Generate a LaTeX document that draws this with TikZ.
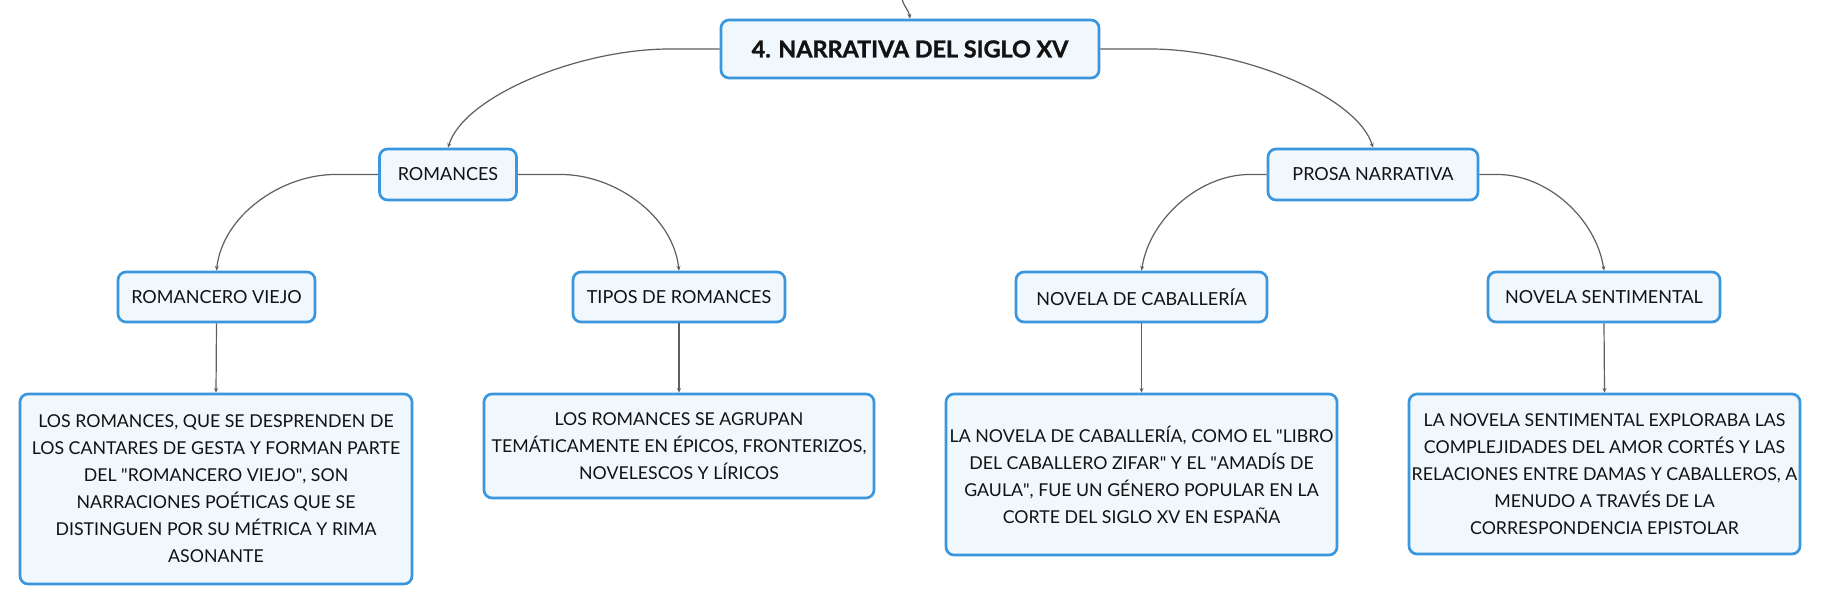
\documentclass[tikz,border=0pt]{standalone}
\usepackage{fontspec}
\setmainfont{Lato}
\newfontfamily\titlefont{Lato}[BoldFeatures={FakeBold=1.3}]
\usetikzlibrary{arrows.meta}
\definecolor{bxborder}{RGB}{58,150,221}
\definecolor{bxfill}{RGB}{240,247,253}
\definecolor{conncol}{RGB}{95,95,95}
\definecolor{txtcol}{RGB}{18,18,18}
\newcommand{\qd}{\textquotedbl}
\tikzset{
  box/.style 2 args={draw=bxborder, fill=bxfill, line width=2pt, rounded corners=6pt,
    minimum width=#1*0.75pt, minimum height=#2*0.75pt, inner sep=0pt, align=center,
    text=txtcol, font=\fontsize{13.5}{20.25}\selectfont},
  bodybox/.style 2 args={box={#1}{#2}, font=\fontsize{13.3}{20.25}\selectfont},
  titlebox/.style 2 args={box={#1}{#2}, font=\titlefont\bfseries\fontsize{17.5}{21}\selectfont},
  conn/.style={draw=conncol, line width=0.9pt, -{Stealth[length=3.5pt,width=3pt]}}
}
\begin{document}
\begin{tikzpicture}[x=0.75pt,y=-0.75pt]
\fill[white] (0,0) rectangle (1821,605);
\useasboundingbox (0,0) rectangle (1821,605);
% nodes
\node[titlebox={378}{58}] (title) at (910,49) {4. NARRATIVA DEL SIGLO XV};
\node[box={137}{51}] (rom) at (448,174.5) {ROMANCES};
\node[box={210}{51}] (prosa) at (1373,174.5) {PROSA NARRATIVA};
\node[box={197}{50}] (rv) at (216.5,297) {ROMANCERO VIEJO};
\node[box={212}{50}] (tipos) at (679,297) {TIPOS DE ROMANCES};
\node[box={251}{50}] (cab) at (1141.5,297) {NOVELA DE CABALLERÍA};
\node[box={232}{50}] (sent) at (1604,297) {NOVELA SENTIMENTAL};
\node[bodybox={392}{190}] (b1) at (216,489) {LOS ROMANCES, QUE SE DESPRENDEN DE\\LOS CANTARES DE GESTA Y FORMAN PARTE\\DEL \qd ROMANCERO VIEJO\qd, SON\\NARRACIONES POÉTICAS QUE SE\\DISTINGUEN POR SU MÉTRICA Y RIMA\\ASONANTE};
\node[bodybox={390}{104}] (b2) at (679,446) {LOS ROMANCES SE AGRUPAN\\TEMÁTICAMENTE EN ÉPICOS, FRONTERIZOS,\\NOVELESCOS Y LÍRICOS};
\node[bodybox={391}{161}] (b3) at (1141.5,474.5) {LA NOVELA DE CABALLERÍA, COMO EL \qd LIBRO\\DEL CABALLERO ZIFAR\qd{} Y EL \qd AMADÍS DE\\GAULA\qd, FUE UN GÉNERO POPULAR EN LA\\CORTE DEL SIGLO XV EN ESPAÑA};
\node[bodybox={391}{160}] (b4) at (1604.5,474) {LA NOVELA SENTIMENTAL EXPLORABA LAS\\COMPLEJIDADES DEL AMOR CORTÉS Y LAS\\RELACIONES ENTRE DAMAS Y CABALLEROS, A\\MENUDO A TRAVÉS DE LA\\CORRESPONDENCIA EPISTOLAR};
\coordinate (topin) at (902,-1);
% connectors
\draw[conn] (topin) .. controls +(2,8) and +(-1,-8) .. (title.north);
\draw[conn] (title.west) -- ++(-50,0) .. controls +(-90,0) and +(16,-52) .. (rom.north);
\draw[conn] (title.east) -- ++(50,0) .. controls +(90,0) and +(-16,-52) .. (prosa.north);
\draw[conn] (rom.west) -- ++(-43,0) .. controls +(-54,0) and +(6,-55) .. (rv.north);
\draw[conn] (rom.east) -- ++(43,0) .. controls +(54,0) and +(-6,-55) .. (tipos.north);
\draw[conn] (prosa.west) -- ++(-17,0) .. controls +(-50,0) and +(8,-52) .. (cab.north);
\draw[conn] (prosa.east) -- ++(18,0) .. controls +(50,0) and +(-8,-52) .. (sent.north);
\draw[conn] (rv.south) -- (b1.north);
\draw[conn] (tipos.south) -- (b2.north);
\draw[conn] (cab.south) -- (b3.north);
\draw[conn] (sent.south) -- (b4.north);
\end{tikzpicture}
\end{document}
